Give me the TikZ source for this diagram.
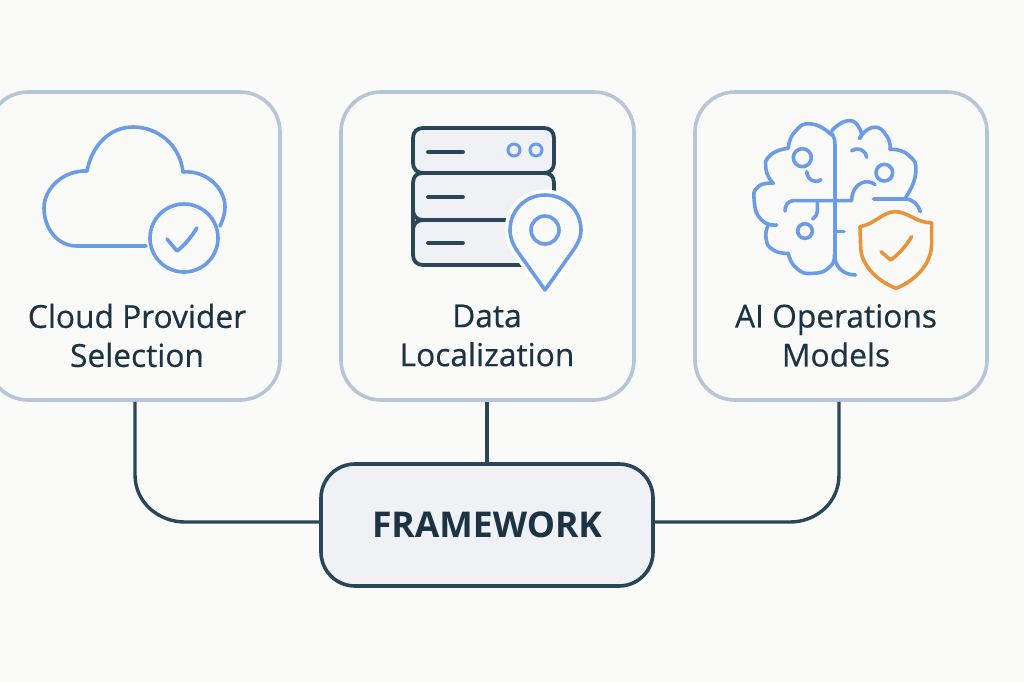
\documentclass[tikz,border=0pt]{standalone}
\usepackage{fontspec}
\setmainfont{Open Sans}
\newfontfamily\labfont[FakeBold=0.5]{Open Sans}
\definecolor{bgc}{HTML}{FAFAF9}
\definecolor{cardc}{HTML}{B5C6D8}
\definecolor{navy}{HTML}{2A4759}
\definecolor{inkc}{HTML}{1B3342}
\definecolor{bluec}{HTML}{6C9BE8}
\definecolor{orangec}{HTML}{E8943A}
\definecolor{fillc}{HTML}{EFF1F4}
\tikzset{
  card/.style={draw=cardc,line width=3.6pt,rounded corners=40pt,fill=bgc,minimum height=308pt,inner sep=0pt},
  label/.style={text=inkc,font=\labfont\fontsize{31.7}{39}\selectfont,align=center,inner sep=0pt},
  fw/.style={draw=navy,line width=3.6pt,rounded corners=34pt,fill=fillc,minimum width=332pt,minimum height=122pt,inner sep=0pt,text=inkc,font=\fontsize{35.5}{40}\selectfont\bfseries},
  wire/.style={draw=navy,line width=3.4pt},
  iconb/.style={draw=bluec,line width=3.6pt,line cap=round,line join=round},
  icono/.style={draw=orangec,line width=3.6pt,line cap=round,line join=round},
  srv/.style={draw=navy,line width=3.8pt,line cap=round,line join=round},
}
\begin{document}
\begin{tikzpicture}[x=1pt,y=-1pt]
\clip (0,0) rectangle (1024,683);
\fill[bgc] (0,0) rectangle (1024,683);
% cards
\node[card,minimum width=292pt] (cardA) at (134,246) {};
\node[card,minimum width=293pt] (cardB) at (487.5,246) {};
\node[card,minimum width=292pt] (cardC) at (841,246) {};
\node[fw] (frame) at (487,525) {FRAMEWORK};
% connectors
\draw[wire] ([xshift=1pt]cardA.south) -- ++(0,73) .. controls +(0,28) and +(-26,0) .. ++(50,47.2) -- ([yshift=3pt]frame.west);
\draw[wire] (cardB.south -| frame.north) -- (frame.north);
\draw[wire] ([xshift=-2pt]cardC.south) -- ++(0,73) .. controls +(0,28) and +(26,0) .. ++(-49,47.2) -- ([yshift=3pt]frame.east);
% labels
\node[label] (labA) at (137,335.5) {Cloud Provider\\[0pt]Selection};
\node[label] (labB) at (487,335.5) {Data\\[0pt]Localization};
\node[label] (labC) at (836,335.5) {AI Operations\\[0pt]Models};
% cloud icon
\draw[iconb] (146,246) -- (77,246) .. controls (57,246) and (44,228) .. (44,208)
  .. controls (44,188) and (64,170) .. (87,171)
  .. controls (92,145) and (110,127) .. (133,127)
  .. controls (158,127) and (180,145) .. (183,172)
  .. controls (206,170) and (225,188) .. (225,207)
  .. controls (225,213) and (223,220) .. (220,226);
\draw[iconb] (184,238) circle[radius=34];
\draw[iconb] (167,239) -- (177,251) .. controls (185,245) and (191,237) .. (197,228);
% server icon
\draw[srv,fill=fillc] (413,183) .. controls (413,176) and (417,173) .. (423,173) -- (544,173) .. controls (550,173) and (554,176) .. (554,183) -- (554,255) .. controls (554,261) and (550,265) .. (544,265) -- (423,265) .. controls (417,265) and (413,261) .. (413,255) -- cycle;
\draw[srv,fill=fillc] (423,128) -- (544,128) .. controls (550,128) and (554,132) .. (554,138) -- (554,163) .. controls (554,169) and (550,173) .. (544,173) -- (423,173) .. controls (417,173) and (413,169) .. (413,163) -- (413,138) .. controls (413,132) and (417,128) .. (423,128) -- cycle;
\draw[srv] (423,220) -- (554,220);
\draw[srv] (423,220) .. controls (417,220) and (413,216) .. (413,210);
\draw[srv] (423,220) .. controls (417,220) and (413,224) .. (413,230);
\draw[srv] (428,152) -- (463,152);
\draw[srv] (428,197) -- (463,197);
\draw[srv] (428,243) -- (463,243);
\draw[iconb,line width=3pt] (514,150) circle[radius=6];
\draw[iconb,line width=3pt] (536,150) circle[radius=6];
% location pin
\path[draw=white,line width=11pt,line join=round,fill=white] (545,290) -- (518,252) .. controls (513,245) and (510,238) .. (510,230) .. controls (510,210) and (526,195) .. (545,195) .. controls (565,195) and (581,210) .. (581,230) .. controls (581,238) and (577,245) .. (572,252) -- cycle;
\draw[iconb,fill=bgc] (545,290) -- (518,252) .. controls (513,245) and (510,238) .. (510,230) .. controls (510,210) and (526,195) .. (545,195) .. controls (565,195) and (581,210) .. (581,230) .. controls (581,238) and (577,245) .. (572,252) -- cycle;
\draw[iconb] (545,230) circle[radius=14];
% brain icon
\begin{scope}[shift={(740,110)},x=0.3333pt,y=-0.3333pt]
\draw[iconb] plot[smooth,tension=1] coordinates {(275,75) (215,42) (165,65) (145,115)};
\draw[iconb] plot[smooth,tension=1] coordinates {(145,115) (92,135) (78,178) (100,220)};
\draw[iconb] plot[smooth,tension=1] coordinates {(100,220) (55,230) (43,275) (65,330) (110,345)};
\draw[iconb] plot[smooth,tension=1] coordinates {(85,345) (78,385) (100,420) (145,430)};
\draw[iconb] plot[smooth,tension=1] coordinates {(145,430) (170,475) (220,490) (270,470) (283,435)};
\draw[iconb] (275,70) .. controls (282,80) and (285,90) .. (285,105) -- (285,440) .. controls (285,470) and (310,495) .. (347,495);
\draw[iconb] plot[smooth,tension=1] coordinates {(275,62) (325,32) (360,58) (360,85)};
\draw[iconb] plot[smooth,tension=1] coordinates {(358,85) (400,52) (440,78) (450,118)};
\draw[iconb] plot[smooth,tension=1] coordinates {(450,118) (505,135) (527,190) (495,265)};
\draw[iconb] (400,267) -- (495,267) .. controls (520,267) and (535,285) .. (541,305);
\draw[iconb] (335,122) .. controls (350,112) and (375,115) .. (380,142);
\draw[iconb] (433,188) circle[radius=25];
\draw[iconb] (405,224) .. controls (385,205) and (338,215) .. (335,270);
\draw[iconb] (335,272) -- (160,272) .. controls (145,272) and (135,285) .. (135,303);
\draw[iconb] (232,275) -- (232,305) .. controls (232,315) and (225,322) .. (218,327);
\draw[iconb] (195,363) circle[radius=22];
\draw[iconb] (285,365) -- (312,365);
\draw[iconb] (187,143) circle[radius=27];
\draw[iconb] (200,185) .. controls (202,210) and (225,222) .. (243,209);
% shield
\draw[icono] (360,350) .. controls (405,342) and (430,305) .. (465,305) .. controls (505,305) and (530,340) .. (575,338) -- (575,400) .. controls (575,460) and (530,510) .. (468,535) .. controls (405,510) and (362,460) .. (362,410) -- cycle;
\draw[icono] (423,425) -- (452,450) .. controls (480,430) and (500,405) .. (515,380);
\end{scope}
\end{tikzpicture}
\end{document}
